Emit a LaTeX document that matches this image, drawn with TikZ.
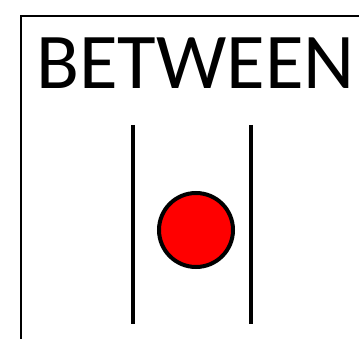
\documentclass[tikz,border=0pt]{standalone}
\usepackage{fontspec}
\setmainfont{Carlito}
\usetikzlibrary{calc}

\begin{document}
\begin{tikzpicture}[x=1pt, y=1pt]
            \useasboundingbox (0,0) rectangle (359,338);
            \draw[line width=2pt] (21,-20) -- (21,322) -- (380,322);
            \node[anchor=base west, inner sep=0pt, font=\fontsize{79}{79}\selectfont] (title) at (36,249) {BETWEEN};
            \draw[line width=4pt] (133,213) -- (133,14);
            \draw[line width=4pt] (251,213) -- (251,14);
            \node[circle, draw, line width=4pt, fill=red, minimum size=74pt, inner sep=0pt] (ball) at (196,108) {};
        \end{tikzpicture}
\end{document}
